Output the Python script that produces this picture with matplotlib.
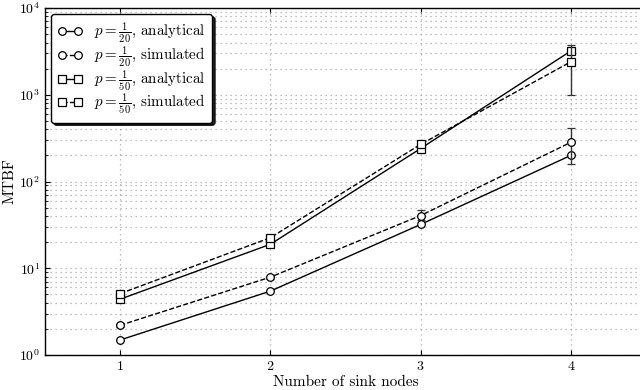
import matplotlib
matplotlib.use("Agg")
import matplotlib.pyplot as plt
from matplotlib.lines import Line2D

plt.rcParams["font.family"] = "serif"
plt.rcParams["font.serif"] = ["cmr10", "DejaVu Serif"]
plt.rcParams["mathtext.fontset"] = "cm"
plt.rcParams["axes.formatter.use_mathtext"] = True

# data
sinks = [1, 2, 3, 4]
p20_analytical = [1.49, 5.45, 32, 200]
p20_simulated = [2.2, 7.9, 40.5, 283]
p20_sim_low = [2.1, 7.6, 36, 158]
p20_sim_high = [2.3, 8.2, 47, 410]
p50_analytical = [4.4, 18.9, 240, 3200]
p50_simulated = [5.1, 22.5, 268, 2400]
p50_sim_low = [4.9, 21.5, 255, 1000]
p50_sim_high = [5.3, 23.5, 285, 3750]

labels = [r"$p=\frac{1}{20}$, analytical", r"$p=\frac{1}{20}$, simulated",
          r"$p=\frac{1}{50}$, analytical", r"$p=\frac{1}{50}$, simulated"]

fig = plt.figure(figsize=(6.4, 3.9), dpi=100)
ax = fig.add_axes([45 / 640, 35 / 390, 601 / 640, 347 / 390])

mk = dict(color="black", markerfacecolor="white", markeredgecolor="black",
          markersize=5.5, linewidth=1.0, markeredgewidth=0.9)


def yerr(vals, low, high):
    return [[v - l for v, l in zip(vals, low)], [h - v for v, h in zip(vals, high)]]


ax.plot(sinks, p20_analytical, "-", marker="o", **mk)
ax.errorbar(sinks, p20_simulated, yerr=yerr(p20_simulated, p20_sim_low, p20_sim_high),
            fmt="--", marker="o", ecolor="#333333", elinewidth=1.0, capsize=3, **mk)
ax.plot(sinks, p50_analytical, "-", marker="s", **mk)
ax.errorbar(sinks, p50_simulated, yerr=yerr(p50_simulated, p50_sim_low, p50_sim_high),
            fmt="--", marker="s", ecolor="#333333", elinewidth=1.0, capsize=3, **mk)

ax.set_yscale("log")
ax.set_ylim(1, 1e4)
ax.set_xlim(0.5, 4.5)
ax.set_xticks(sinks)
ax.tick_params(which="both", direction="in", top=True, right=True, labelsize=10)
ax.grid(which="major", color="#aaaaaa", linestyle=(0, (1, 3)), linewidth=0.9)
ax.grid(which="minor", axis="y", color="#aaaaaa", linestyle=(0, (1, 3)), linewidth=0.9)
ax.set_axisbelow(True)
for s in ax.spines.values():
    s.set_linewidth(1.0)

ax.set_xlabel("Number of sink nodes", fontsize=11, labelpad=2)
ax.set_ylabel("MTBF", fontsize=11, labelpad=2)

handles = [
    Line2D([], [], linestyle="-", marker="o", **mk),
    Line2D([], [], linestyle="--", marker="o", **mk),
    Line2D([], [], linestyle="-", marker="s", **mk),
    Line2D([], [], linestyle="--", marker="s", **mk),
]
leg = ax.legend(handles, labels, loc="upper left", fontsize=10.8, handlelength=1.7,
                handletextpad=0.8, labelspacing=-0.05, numpoints=2, borderpad=0.4,
                fancybox=True, shadow={"color": "black", "alpha": 0.85},
                framealpha=1.0, edgecolor="black", borderaxespad=0.4)
leg.get_frame().set_linewidth(1.0)

fig.savefig("out.png", dpi=100)
